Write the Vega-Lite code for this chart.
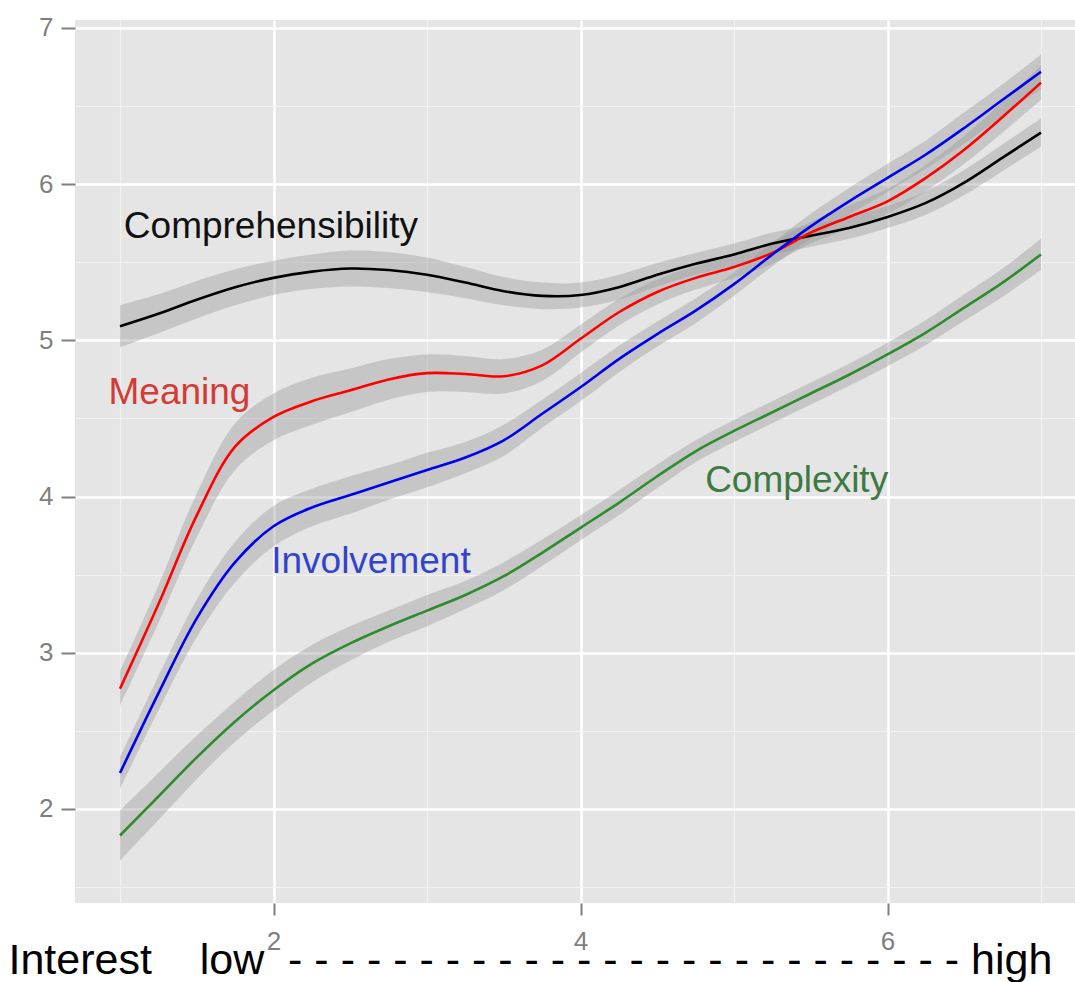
{
  "$schema": "https://vega.github.io/schema/vega-lite/v6.json",
  "width": 1000,
  "height": 883,
  "autosize": {"type": "none"},
  "padding": {"left": 75, "top": 20, "right": 0, "bottom": 79},
  "background": "#ffffff",
  "config": {
    "view": {"fill": "#e5e5e5", "stroke": null},
    "axis": {"domain": false, "labelFont": "Liberation Sans", "titleFont": "Liberation Sans", "labelFontSize": 26, "labelColor": "#7f7f7f", "tickColor": "#7f7f7f", "tickWidth": 2}
  },
  "datasets": {
    "curves": [
      {"series": "Comprehensibility", "x": 1, "y": 5.09, "lo": 4.955, "hi": 5.225},
      {"series": "Comprehensibility", "x": 1.25, "y": 5.17, "lo": 5.045, "hi": 5.295},
      {"series": "Comprehensibility", "x": 1.5, "y": 5.26, "lo": 5.14, "hi": 5.38},
      {"series": "Comprehensibility", "x": 1.75, "y": 5.34, "lo": 5.225, "hi": 5.455},
      {"series": "Comprehensibility", "x": 2, "y": 5.40, "lo": 5.29, "hi": 5.51},
      {"series": "Comprehensibility", "x": 2.25, "y": 5.44, "lo": 5.33, "hi": 5.55},
      {"series": "Comprehensibility", "x": 2.5, "y": 5.46, "lo": 5.345, "hi": 5.575},
      {"series": "Comprehensibility", "x": 2.75, "y": 5.45, "lo": 5.335, "hi": 5.565},
      {"series": "Comprehensibility", "x": 3, "y": 5.42, "lo": 5.31, "hi": 5.53},
      {"series": "Comprehensibility", "x": 3.25, "y": 5.37, "lo": 5.27, "hi": 5.47},
      {"series": "Comprehensibility", "x": 3.5, "y": 5.315, "lo": 5.225, "hi": 5.405},
      {"series": "Comprehensibility", "x": 3.75, "y": 5.285, "lo": 5.2, "hi": 5.37},
      {"series": "Comprehensibility", "x": 4, "y": 5.29, "lo": 5.21, "hi": 5.37},
      {"series": "Comprehensibility", "x": 4.25, "y": 5.34, "lo": 5.26, "hi": 5.42},
      {"series": "Comprehensibility", "x": 4.5, "y": 5.42, "lo": 5.345, "hi": 5.495},
      {"series": "Comprehensibility", "x": 4.75, "y": 5.49, "lo": 5.42, "hi": 5.56},
      {"series": "Comprehensibility", "x": 5, "y": 5.55, "lo": 5.48, "hi": 5.62},
      {"series": "Comprehensibility", "x": 5.25, "y": 5.62, "lo": 5.55, "hi": 5.69},
      {"series": "Comprehensibility", "x": 5.5, "y": 5.67, "lo": 5.60, "hi": 5.74},
      {"series": "Comprehensibility", "x": 5.75, "y": 5.72, "lo": 5.65, "hi": 5.79},
      {"series": "Comprehensibility", "x": 6, "y": 5.79, "lo": 5.72, "hi": 5.86},
      {"series": "Comprehensibility", "x": 6.25, "y": 5.88, "lo": 5.805, "hi": 5.955},
      {"series": "Comprehensibility", "x": 6.5, "y": 6.01, "lo": 5.93, "hi": 6.09},
      {"series": "Comprehensibility", "x": 6.75, "y": 6.17, "lo": 6.085, "hi": 6.255},
      {"series": "Comprehensibility", "x": 7, "y": 6.33, "lo": 6.24, "hi": 6.42},

      {"series": "Meaning", "x": 1, "y": 2.77, "lo": 2.66, "hi": 2.88},
      {"series": "Meaning", "x": 1.25, "y": 3.31, "lo": 3.19, "hi": 3.43},
      {"series": "Meaning", "x": 1.5, "y": 3.88, "lo": 3.74, "hi": 4.02},
      {"series": "Meaning", "x": 1.75, "y": 4.32, "lo": 4.17, "hi": 4.47},
      {"series": "Meaning", "x": 2, "y": 4.51, "lo": 4.36, "hi": 4.66},
      {"series": "Meaning", "x": 2.25, "y": 4.61, "lo": 4.46, "hi": 4.76},
      {"series": "Meaning", "x": 2.5, "y": 4.68, "lo": 4.54, "hi": 4.82},
      {"series": "Meaning", "x": 2.75, "y": 4.75, "lo": 4.62, "hi": 4.88},
      {"series": "Meaning", "x": 3, "y": 4.79, "lo": 4.67, "hi": 4.91},
      {"series": "Meaning", "x": 3.25, "y": 4.785, "lo": 4.67, "hi": 4.9},
      {"series": "Meaning", "x": 3.5, "y": 4.77, "lo": 4.66, "hi": 4.88},
      {"series": "Meaning", "x": 3.75, "y": 4.84, "lo": 4.74, "hi": 4.94},
      {"series": "Meaning", "x": 4, "y": 5.01, "lo": 4.92, "hi": 5.1},
      {"series": "Meaning", "x": 4.25, "y": 5.18, "lo": 5.095, "hi": 5.265},
      {"series": "Meaning", "x": 4.5, "y": 5.31, "lo": 5.23, "hi": 5.39},
      {"series": "Meaning", "x": 4.75, "y": 5.40, "lo": 5.325, "hi": 5.475},
      {"series": "Meaning", "x": 5, "y": 5.47, "lo": 5.40, "hi": 5.54},
      {"series": "Meaning", "x": 5.25, "y": 5.56, "lo": 5.49, "hi": 5.63},
      {"series": "Meaning", "x": 5.5, "y": 5.69, "lo": 5.62, "hi": 5.76},
      {"series": "Meaning", "x": 5.75, "y": 5.79, "lo": 5.715, "hi": 5.865},
      {"series": "Meaning", "x": 6, "y": 5.89, "lo": 5.81, "hi": 5.97},
      {"series": "Meaning", "x": 6.25, "y": 6.04, "lo": 5.955, "hi": 6.125},
      {"series": "Meaning", "x": 6.5, "y": 6.22, "lo": 6.13, "hi": 6.31},
      {"series": "Meaning", "x": 6.75, "y": 6.43, "lo": 6.33, "hi": 6.53},
      {"series": "Meaning", "x": 7, "y": 6.65, "lo": 6.54, "hi": 6.76},

      {"series": "Involvement", "x": 1, "y": 2.23, "lo": 2.13, "hi": 2.33},
      {"series": "Involvement", "x": 1.25, "y": 2.74, "lo": 2.63, "hi": 2.85},
      {"series": "Involvement", "x": 1.5, "y": 3.22, "lo": 3.1, "hi": 3.34},
      {"series": "Involvement", "x": 1.75, "y": 3.58, "lo": 3.45, "hi": 3.71},
      {"series": "Involvement", "x": 2, "y": 3.81, "lo": 3.68, "hi": 3.94},
      {"series": "Involvement", "x": 2.25, "y": 3.93, "lo": 3.81, "hi": 4.05},
      {"series": "Involvement", "x": 2.5, "y": 4.01, "lo": 3.89, "hi": 4.13},
      {"series": "Involvement", "x": 2.75, "y": 4.09, "lo": 3.98, "hi": 4.2},
      {"series": "Involvement", "x": 3, "y": 4.17, "lo": 4.06, "hi": 4.28},
      {"series": "Involvement", "x": 3.25, "y": 4.25, "lo": 4.15, "hi": 4.35},
      {"series": "Involvement", "x": 3.5, "y": 4.36, "lo": 4.26, "hi": 4.46},
      {"series": "Involvement", "x": 3.75, "y": 4.53, "lo": 4.44, "hi": 4.62},
      {"series": "Involvement", "x": 4, "y": 4.70, "lo": 4.61, "hi": 4.79},
      {"series": "Involvement", "x": 4.25, "y": 4.88, "lo": 4.795, "hi": 4.965},
      {"series": "Involvement", "x": 4.5, "y": 5.04, "lo": 4.96, "hi": 5.12},
      {"series": "Involvement", "x": 4.75, "y": 5.19, "lo": 5.11, "hi": 5.27},
      {"series": "Involvement", "x": 5, "y": 5.36, "lo": 5.285, "hi": 5.435},
      {"series": "Involvement", "x": 5.25, "y": 5.55, "lo": 5.475, "hi": 5.625},
      {"series": "Involvement", "x": 5.5, "y": 5.73, "lo": 5.65, "hi": 5.81},
      {"series": "Involvement", "x": 5.75, "y": 5.89, "lo": 5.805, "hi": 5.975},
      {"series": "Involvement", "x": 6, "y": 6.04, "lo": 5.95, "hi": 6.13},
      {"series": "Involvement", "x": 6.25, "y": 6.19, "lo": 6.10, "hi": 6.28},
      {"series": "Involvement", "x": 6.5, "y": 6.36, "lo": 6.26, "hi": 6.46},
      {"series": "Involvement", "x": 6.75, "y": 6.54, "lo": 6.44, "hi": 6.64},
      {"series": "Involvement", "x": 7, "y": 6.72, "lo": 6.61, "hi": 6.83},

      {"series": "Complexity", "x": 1, "y": 1.83, "lo": 1.67, "hi": 1.99},
      {"series": "Complexity", "x": 1.25, "y": 2.08, "lo": 1.93, "hi": 2.23},
      {"series": "Complexity", "x": 1.5, "y": 2.33, "lo": 2.19, "hi": 2.47},
      {"series": "Complexity", "x": 1.75, "y": 2.56, "lo": 2.43, "hi": 2.69},
      {"series": "Complexity", "x": 2, "y": 2.76, "lo": 2.63, "hi": 2.89},
      {"series": "Complexity", "x": 2.25, "y": 2.93, "lo": 2.81, "hi": 3.05},
      {"series": "Complexity", "x": 2.5, "y": 3.06, "lo": 2.95, "hi": 3.17},
      {"series": "Complexity", "x": 2.75, "y": 3.17, "lo": 3.07, "hi": 3.27},
      {"series": "Complexity", "x": 3, "y": 3.27, "lo": 3.17, "hi": 3.37},
      {"series": "Complexity", "x": 3.25, "y": 3.37, "lo": 3.28, "hi": 3.46},
      {"series": "Complexity", "x": 3.5, "y": 3.49, "lo": 3.40, "hi": 3.58},
      {"series": "Complexity", "x": 3.75, "y": 3.64, "lo": 3.555, "hi": 3.725},
      {"series": "Complexity", "x": 4, "y": 3.80, "lo": 3.72, "hi": 3.88},
      {"series": "Complexity", "x": 4.25, "y": 3.96, "lo": 3.88, "hi": 4.04},
      {"series": "Complexity", "x": 4.5, "y": 4.13, "lo": 4.055, "hi": 4.205},
      {"series": "Complexity", "x": 4.75, "y": 4.29, "lo": 4.22, "hi": 4.36},
      {"series": "Complexity", "x": 5, "y": 4.42, "lo": 4.35, "hi": 4.49},
      {"series": "Complexity", "x": 5.25, "y": 4.54, "lo": 4.47, "hi": 4.61},
      {"series": "Complexity", "x": 5.5, "y": 4.66, "lo": 4.59, "hi": 4.73},
      {"series": "Complexity", "x": 5.75, "y": 4.78, "lo": 4.71, "hi": 4.85},
      {"series": "Complexity", "x": 6, "y": 4.91, "lo": 4.835, "hi": 4.985},
      {"series": "Complexity", "x": 6.25, "y": 5.05, "lo": 4.97, "hi": 5.13},
      {"series": "Complexity", "x": 6.5, "y": 5.21, "lo": 5.125, "hi": 5.295},
      {"series": "Complexity", "x": 6.75, "y": 5.37, "lo": 5.28, "hi": 5.46},
      {"series": "Complexity", "x": 7, "y": 5.55, "lo": 5.45, "hi": 5.65}
    ],
    "labels": [
      {"series": "Comprehensibility", "x": 1.025, "y": 5.656},
      {"series": "Meaning", "x": 0.925, "y": 4.593},
      {"series": "Involvement", "x": 1.985, "y": 3.511},
      {"series": "Complexity", "x": 4.812, "y": 4.03}
    ]
  },
  "encoding": {
    "x": {
      "field": "x",
      "type": "quantitative",
      "scale": {"domain": [0.7068, 7.2215], "nice": false, "zero": false},
      "axis": {
        "values": [1, 2, 3, 4, 5, 6, 7],
        "grid": true,
        "gridColor": {"condition": {"test": "datum.value % 2 === 0", "value": "#ffffff"}, "value": "#f2f2f2"},
        "gridWidth": {"condition": {"test": "datum.value % 2 === 0", "value": 2.5}, "value": 1.2},
        "labelExpr": "datum.value % 2 === 0 ? '' + datum.value : ''",
        "ticks": true,
        "tickOpacity": {"condition": {"test": "datum.value % 2 === 0", "value": 1}, "value": 0},
        "tickColor": "#7f7f7f",
        "tickWidth": 2,
        "tickSize": 12,
        "labelColor": "#7f7f7f",
        "labelFontSize": 26,
        "labelPadding": 13,
        "title": "Interest\u00a0\u00a0\u00a0\u00a0low\u00a0 - - - - - - - - - - - - - - - - - - - - - - - - - - high",
        "titleFontSize": 43,
        "titleFontWeight": "normal",
        "titleColor": "#000000",
        "titleAnchor": "start",
        "titleAlign": "left",
        "titleBaseline": "alphabetic",
        "titleX": -67,
        "titleY": 70
      }
    },
    "y": {
      "field": "y",
      "type": "quantitative",
      "scale": {"domain": [1.398, 7.051], "nice": false, "zero": false},
      "axis": {
        "values": [1.5, 2, 2.5, 3, 3.5, 4, 4.5, 5, 5.5, 6, 6.5, 7],
        "grid": true,
        "gridColor": {"condition": {"test": "datum.value % 1 === 0", "value": "#ffffff"}, "value": "#f2f2f2"},
        "gridWidth": {"condition": {"test": "datum.value % 1 === 0", "value": 2.5}, "value": 1.2},
        "labelExpr": "datum.value % 1 === 0 ? '' + datum.value : ''",
        "tickOpacity": {"condition": {"test": "datum.value % 1 === 0", "value": 1}, "value": 0},
        "tickColor": "#7f7f7f",
        "tickWidth": 2,
        "tickSize": 14,
        "labelColor": "#7f7f7f",
        "labelFontSize": 26,
        "labelPadding": 8,
        "title": null
      }
    }
  },
  "layer": [
    {
      "data": {"name": "curves"},
      "mark": {"type": "area", "fill": "#999999", "fillOpacity": 0.4, "interpolate": "catmull-rom"},
      "encoding": {
        "y": {"field": "lo", "type": "quantitative", "title": null},
        "y2": {"field": "hi"},
        "detail": {"field": "series", "type": "nominal"}
      }
    },
    {
      "data": {"name": "curves"},
      "mark": {"type": "line", "strokeWidth": 2.6, "interpolate": "catmull-rom"},
      "encoding": {
        "stroke": {
          "field": "series",
          "type": "nominal",
          "scale": {"domain": ["Comprehensibility", "Meaning", "Involvement", "Complexity"], "range": ["#000000", "#ff0000", "#0000ee", "#2e8b2e"]},
          "legend": null
        }
      }
    },
    {
      "data": {"name": "labels"},
      "mark": {"type": "text", "align": "left", "baseline": "alphabetic", "font": "Liberation Sans", "fontSize": 37},
      "encoding": {
        "text": {"field": "series", "type": "nominal"},
        "fill": {
          "field": "series",
          "type": "nominal",
          "scale": {"domain": ["Comprehensibility", "Meaning", "Involvement", "Complexity"], "range": ["#111111", "#d43a36", "#3344cc", "#3d7a42"]},
          "legend": null
        }
      }
    }
  ]
}
